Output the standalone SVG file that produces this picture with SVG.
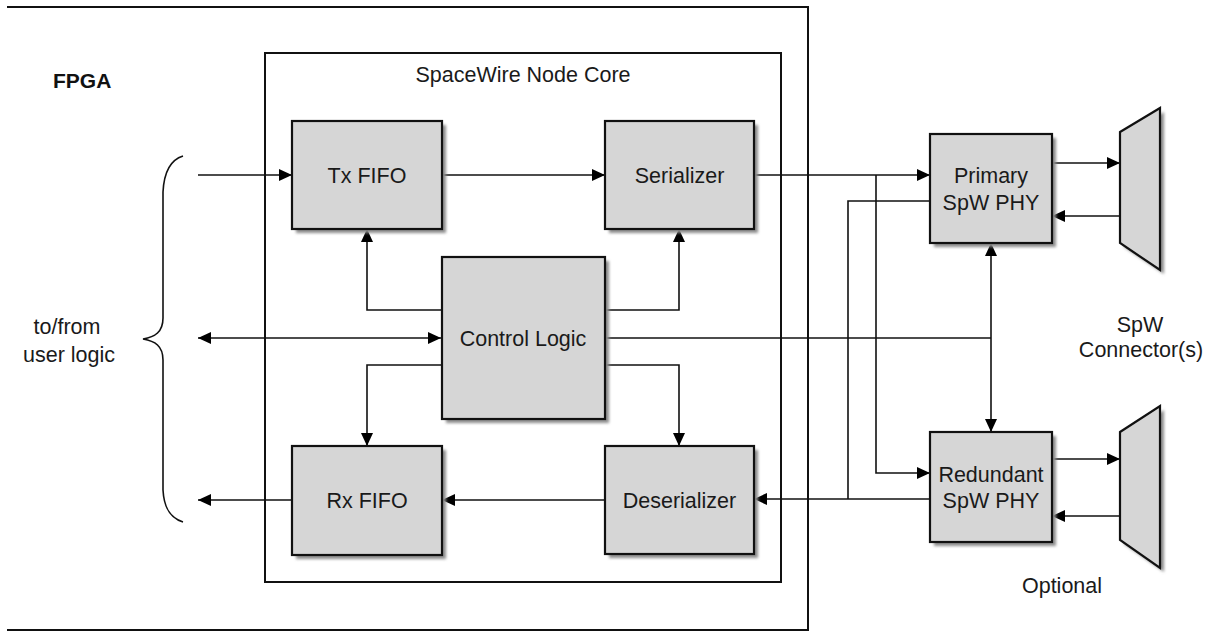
<svg xmlns="http://www.w3.org/2000/svg" width="1209" height="634" viewBox="0 0 1209 634">
<defs>
<marker id="ah" viewBox="0 0 13 12" refX="13" refY="6" markerWidth="13" markerHeight="12" markerUnits="userSpaceOnUse" orient="auto-start-reverse">
<path d="M0,0 L13,6 L0,12 Z" fill="#000"/>
</marker>
<filter id="sh" x="-10%" y="-10%" width="130%" height="130%">
<feGaussianBlur stdDeviation="1.5"/>
</filter>
</defs>
<style>
.box{fill:#d6d6d6;stroke:#111;stroke-width:2.2}
.shd{fill:#8c8c8c;filter:url(#sh)}
.frame{fill:none;stroke:#111;stroke-width:2}
.ln{fill:none;stroke:#111;stroke-width:1.6}
.arr{marker-end:url(#ah)}
.lbl{font-family:"Liberation Sans",Arial,sans-serif;font-size:21.5px;fill:#1a1a1a;text-anchor:middle}
.big{font-family:"Liberation Sans",Arial,sans-serif;font-size:21px;font-weight:bold;fill:#111}
</style>
<rect width="1209" height="634" fill="#fff"/>

<g id="fpga">
<path d="M811,10 L811,633" stroke="#999" stroke-width="3" fill="none" filter="url(#sh)"/>
<path class="frame" d="M7,7 L808,7 L808,630 L7,630" stroke-width="3"/>
<text class="big" x="53" y="88">FPGA</text>
</g>

<g id="core">
<rect class="frame" x="265" y="53" width="516" height="529"/>
<text class="lbl" x="523" y="82">SpaceWire Node Core</text>
</g>

<g id="connectors">
<line class="ln arr" x1="198" y1="175" x2="292" y2="175"/>
<line class="ln arr" x1="442" y1="175" x2="605" y2="175"/>
<line class="ln arr" x1="441" y1="338" x2="198" y2="338" style="marker-start:url(#ah)"/>
<line class="ln arr" x1="292" y1="500" x2="198" y2="500"/>
<line class="ln arr" x1="605" y1="500" x2="442" y2="500"/>
<polyline class="ln arr" points="442,310 367,310 367,229"/>
<polyline class="ln arr" points="605,310 679,310 679,229"/>
<polyline class="ln arr" points="442,365 367,365 367,446"/>
<polyline class="ln arr" points="605,365 679,365 679,446"/>
<line class="ln" x1="605" y1="338" x2="991" y2="338"/>
<line class="ln arr" x1="991" y1="338" x2="991" y2="243"/>
<line class="ln arr" x1="991" y1="338" x2="991" y2="432"/>
<line class="ln arr" x1="754" y1="175" x2="930" y2="175"/>
<polyline class="ln arr" points="876,175 876,473 930,473"/>
<line class="ln arr" x1="930" y1="499" x2="754" y2="499"/>
<polyline class="ln" points="930,201 848,201 848,499"/>
<line class="ln arr" x1="1052" y1="163" x2="1120" y2="163"/>
<line class="ln arr" x1="1120" y1="216" x2="1052" y2="216"/>
<line class="ln arr" x1="1052" y1="459" x2="1120" y2="459"/>
<line class="ln arr" x1="1120" y1="516" x2="1052" y2="516"/>
<path class="ln" stroke-width="1.3" d="M183,156 C170,160 164,172 163,192 L163,318 C163,332 155,337 143,339 C155,341 163,346 163,360 L163,490 C164,508 170,518 183,522"/>
</g>

<g id="txfifo">
<rect class="shd" x="296" y="125" width="150" height="108"/>
<rect class="box" x="292" y="121" width="150" height="108"/>
<text class="lbl" x="367" y="183">Tx FIFO</text>
</g>
<g id="serializer">
<rect class="shd" x="609" y="125" width="149" height="108"/>
<rect class="box" x="605" y="121" width="149" height="108"/>
<text class="lbl" x="679.5" y="183">Serializer</text>
</g>
<g id="control">
<rect class="shd" x="446" y="261" width="163" height="162"/>
<rect class="box" x="442" y="257" width="163" height="162"/>
<text class="lbl" x="523" y="346">Control Logic</text>
</g>
<g id="rxfifo">
<rect class="shd" x="296" y="450" width="150" height="109"/>
<rect class="box" x="292" y="446" width="150" height="109"/>
<text class="lbl" x="367" y="508">Rx FIFO</text>
</g>
<g id="deserializer">
<rect class="shd" x="609" y="450" width="149" height="108"/>
<rect class="box" x="605" y="446" width="149" height="108"/>
<text class="lbl" x="679.5" y="508">Deserializer</text>
</g>
<g id="primary">
<rect class="shd" x="934" y="138" width="122" height="109"/>
<rect class="box" x="930" y="134" width="122" height="109"/>
<text class="lbl" x="991" y="183">Primary</text>
<text class="lbl" x="991" y="210">SpW PHY</text>
</g>
<g id="redundant">
<rect class="shd" x="934" y="436" width="122" height="110"/>
<rect class="box" x="930" y="432" width="122" height="110"/>
<text class="lbl" x="991" y="482">Redundant</text>
<text class="lbl" x="991" y="508">SpW PHY</text>
</g>
<g id="conn1">
<polygon class="shd" points="1124,136 1164,112 1164,274 1124,247"/>
<polygon class="box" points="1120,132 1160,108 1160,270 1120,243" stroke-width="1.6"/>
</g>
<g id="conn2">
<polygon class="shd" points="1124,436 1164,410 1164,572 1124,544"/>
<polygon class="box" points="1120,432 1160,406 1160,568 1120,540" stroke-width="1.6"/>
</g>
<g id="labels">
<text class="lbl" x="67" y="334">to/from</text>
<text class="lbl" x="69" y="362">user logic</text>
<text class="lbl" x="1140" y="332">SpW</text>
<text class="lbl" x="1141" y="357">Connector(s)</text>
<text class="lbl" x="1062" y="593">Optional</text>
</g>
</svg>
